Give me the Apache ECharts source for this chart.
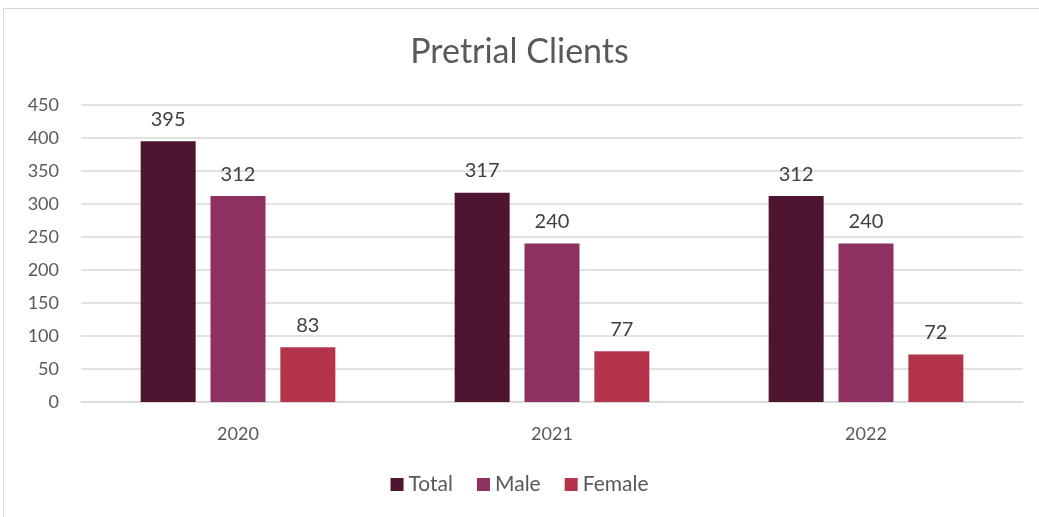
<!DOCTYPE html>
<html>
<head>
<meta charset="utf-8">
<script src="https://cdn.jsdelivr.net/npm/echarts@6/dist/echarts.min.js"></script>
<style>
  html, body { margin: 0; padding: 0; background: #fff; }
  #chart { width: 1039px; height: 517px; }
  .frame {
    position: absolute; left: 3px; top: 8px; width: 1040px; height: 520px;
    border-top: 1.5px solid #d9d9d9; border-left: 1.5px solid #d9d9d9;
    pointer-events: none;
  }
</style>
</head>
<body>
<div id="chart"></div>
<div class="frame"></div>
<script>
const years = ['2020', '2021', '2022']
const totalValues = [395, 317, 312]
const maleValues = [312, 240, 240]
const femaleValues = [83, 77, 72]

const font = 'Lato, "Open Sans", sans-serif'

const myChart = echarts.init(document.getElementById('chart'))

function makeSeries(name, data, color) {
  return {
    name,
    type: 'bar',
    data,
    barWidth: 55,
    barGap: '27%',
    itemStyle: { color },
    label: {
      show: true,
      position: 'top',
      distance: 12,
      color: '#404040',
      fontSize: 20,
      fontFamily: font
    },
    animation: false
  }
}

myChart.setOption({
  title: {
    text: 'Pretrial Clients',
    left: 'center',
    top: 30,
    textStyle: { fontSize: 34, fontWeight: 'normal', color: '#595959', fontFamily: font }
  },
  legend: {
    bottom: 17,
    left: 'center',
    itemWidth: 13,
    itemHeight: 13,
    itemGap: 24,
    icon: 'rect',
    textStyle: { fontSize: 21, color: '#595959', fontFamily: font },
    data: ['Total', 'Male', 'Female']
  },
  grid: { left: 81, right: 16, top: 105, bottom: 115, containLabel: false },
  xAxis: {
    type: 'category',
    data: years,
    axisLine: { lineStyle: { color: '#d9d9d9', width: 1.5 } },
    axisTick: { show: false },
    axisLabel: { color: '#595959', fontSize: 18, margin: 23, fontFamily: font }
  },
  yAxis: {
    type: 'value',
    min: 0,
    max: 450,
    interval: 50,
    axisLine: { show: false },
    axisTick: { show: false },
    axisLabel: { color: '#595959', fontSize: 18, margin: 22, fontFamily: font },
    splitLine: { lineStyle: { color: '#d9d9d9', width: 1.5 } }
  },
  series: [
    makeSeries('Total', totalValues, '#4e1430'),
    makeSeries('Male', maleValues, '#8e3062'),
    makeSeries('Female', femaleValues, '#b3334a')
  ]
})
</script>
</body>
</html>
